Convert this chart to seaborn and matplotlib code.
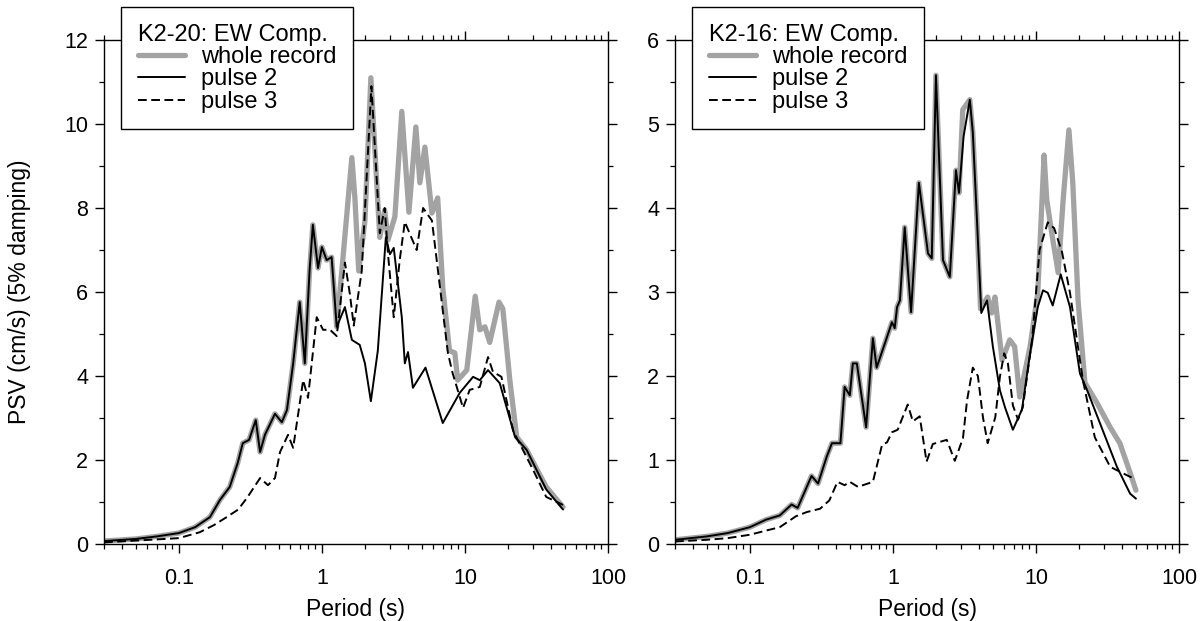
import numpy as np
import pandas as pd
import matplotlib
matplotlib.use("Agg")
import matplotlib.pyplot as plt
from matplotlib.ticker import FixedLocator, MultipleLocator, LogLocator, NullFormatter, FuncFormatter
import seaborn as sns

# ---------------- data ----------------
# Left panel: K2-20 EW component
k20_whole_T = [0.03, 0.05, 0.07, 0.1, 0.13, 0.165, 0.194, 0.227, 0.258, 0.28, 0.31, 0.345, 0.37, 0.4,
               0.47, 0.525, 0.57, 0.63, 0.70, 0.76, 0.82, 0.865, 0.94, 1.0, 1.08, 1.17, 1.27, 1.4,
               1.62, 1.7, 1.81, 2.0, 2.2, 2.54, 2.75, 2.9, 3.24, 3.62, 4.06, 4.54, 4.84, 5.25, 5.88,
               6.45, 7.0, 7.8, 8.5, 8.9, 10.3, 11.8, 12.7, 13.8, 14.9, 17.3, 18.4, 20.6, 23, 27,
               37, 48.5]
k20_whole_v = [0.07, 0.12, 0.18, 0.26, 0.4, 0.64, 1.05, 1.36, 1.93, 2.4, 2.48, 2.95, 2.19, 2.6,
               3.1, 2.9, 3.19, 4.3, 5.76, 4.3, 6.5, 7.6, 6.57, 7.07, 6.76, 6.83, 5.17, 6.76,
               9.2, 8.26, 6.5, 7.7, 11.1, 7.3, 7.95, 7.24, 7.8, 10.3, 7.9, 9.93, 8.6, 9.45, 7.88,
               8.24, 6.1, 4.6, 4.55, 3.9, 4.14, 5.9, 5.1, 5.17, 4.8, 5.76, 5.6, 3.9, 2.55, 2.24,
               1.36, 0.88]

k20_p2_T = [0.03, 0.05, 0.07, 0.1, 0.13, 0.165, 0.194, 0.227, 0.258, 0.28, 0.31, 0.345, 0.37, 0.4,
            0.47, 0.525, 0.57, 0.63, 0.70, 0.76, 0.82, 0.865, 0.94, 1.0, 1.08, 1.17, 1.27, 1.45,
            1.62, 1.84, 2.0, 2.2, 2.46, 2.8, 2.99, 3.18, 3.62, 3.8, 4.0, 4.33, 5.3, 7.0, 9.2,
            11.4, 12.7, 14.5, 17.5, 22.4, 27, 37, 48.5]
k20_p2_v = [0.07, 0.12, 0.18, 0.26, 0.4, 0.64, 1.05, 1.36, 1.93, 2.4, 2.48, 2.95, 2.19, 2.6,
            3.1, 2.9, 3.19, 4.3, 5.76, 4.3, 6.5, 7.6, 6.57, 7.07, 6.76, 6.83, 5.17, 5.64,
            4.86, 4.74, 4.3, 3.4, 4.6, 7.3, 6.9, 7.05, 5.4, 4.3, 4.57, 3.72, 4.2, 2.88, 3.6,
            3.98, 3.9, 4.14, 3.83, 2.55, 2.24, 1.3, 0.82]

k20_p3_T = [0.03, 0.063, 0.1, 0.14, 0.176, 0.216, 0.26, 0.3, 0.37, 0.42, 0.47, 0.51, 0.58, 0.63,
            0.74, 0.8, 0.92, 1.02, 1.14, 1.27, 1.45, 1.57, 1.67, 1.9, 2.22, 2.54, 2.75, 2.9,
            3.18, 3.5, 3.8, 4.1, 4.6, 5.1, 5.88, 6.7, 7.6, 8.2, 9.7, 10.8, 12.7, 14.5, 15.7,
            18, 21.7, 30, 37, 44, 48.5]
k20_p3_v = [0.04, 0.1, 0.14, 0.28, 0.45, 0.64, 0.82, 1.1, 1.57, 1.4, 1.57, 2.19, 2.6, 2.29,
            3.9, 3.48, 5.4, 5.1, 5.1, 4.95, 6.7, 5.95, 5.2, 6.5, 10.9, 7.4, 8.0, 6.9,
            5.4, 6.76, 7.67, 7.4, 7.0, 8.0, 7.7, 6.1, 4.55, 4.07, 3.24, 3.67, 3.74, 4.45, 4.1,
            3.98, 2.7, 1.76, 1.12, 1.0, 0.93]

# Right panel: K2-16 EW component
k16_whole_T = [0.03, 0.05, 0.07, 0.1, 0.13, 0.162, 0.196, 0.216, 0.27, 0.3, 0.345, 0.375, 0.43, 0.46,
               0.5, 0.525, 0.56, 0.65, 0.725, 0.77, 0.88, 0.985, 1.03, 1.07, 1.12, 1.21, 1.34,
               1.52, 1.76, 1.87, 2.0, 2.24, 2.5, 2.76, 2.9, 3.08, 3.45, 3.62, 3.86, 4.1, 4.6, 4.9,
               5.17, 5.8, 6.56, 7.1, 7.7, 9.1, 10.3, 11.4, 11.9, 12.9, 14.3, 15.5, 17.0, 18.1,
               19.7, 22, 26.7, 33, 38.6, 45.5, 50]
k16_whole_v = [0.05, 0.09, 0.13, 0.2, 0.29, 0.34, 0.47, 0.43, 0.81, 0.72, 1.04, 1.2, 1.2, 1.87,
               1.77, 2.15, 2.15, 1.39, 2.45, 2.1, 2.39, 2.64, 2.57, 2.82, 2.9, 3.77, 2.76,
               4.3, 3.46, 3.4, 5.58, 3.38, 3.18, 4.45, 4.18, 5.17, 5.29, 4.9, 3.9, 2.8, 2.94, 2.75,
               2.94, 2.19, 2.43, 2.35, 1.75, 2.35, 2.99, 4.63, 4.1, 3.7, 3.23, 4.1, 4.93, 4.3,
               2.9, 1.92, 1.68, 1.39, 1.2, 0.85, 0.64]

k16_p2_T = [0.03, 0.05, 0.07, 0.1, 0.13, 0.162, 0.196, 0.216, 0.27, 0.3, 0.345, 0.375, 0.43, 0.46,
            0.5, 0.525, 0.56, 0.65, 0.725, 0.77, 0.88, 0.985, 1.03, 1.07, 1.12, 1.21, 1.34,
            1.52, 1.76, 1.87, 2.0, 2.24, 2.5, 2.76, 2.9, 3.12, 3.45, 3.62, 3.86, 4.15, 4.55,
            5.0, 5.6, 6.07, 6.9, 7.98, 9.1, 10.3, 11.2, 12.1, 13.1, 14.9, 17.3, 20.3, 22.8,
            28, 36.8, 45.5, 50]
k16_p2_v = [0.05, 0.09, 0.13, 0.2, 0.29, 0.34, 0.47, 0.43, 0.81, 0.72, 1.04, 1.2, 1.2, 1.87,
            1.77, 2.15, 2.15, 1.39, 2.45, 2.1, 2.39, 2.64, 2.57, 2.82, 2.9, 3.77, 2.76,
            4.3, 3.46, 3.4, 5.58, 3.38, 3.18, 4.45, 4.18, 4.85, 5.29, 4.9, 3.9, 2.75, 2.9,
            2.35, 1.83, 1.63, 1.36, 1.6, 2.27, 2.82, 3.02, 2.99, 2.84, 3.21, 2.82, 2.03, 1.83,
            1.44, 0.92, 0.6, 0.54]

k16_p3_T = [0.03, 0.05, 0.07, 0.1, 0.13, 0.162, 0.21, 0.25, 0.31, 0.36, 0.41, 0.46, 0.5, 0.57,
            0.725, 0.84, 0.91, 0.985, 1.08, 1.27, 1.38, 1.54, 1.72, 1.9, 2.38, 2.71, 3.09, 3.3,
            3.62, 3.93, 4.26, 4.6, 5.2, 5.6, 6.0, 6.37, 6.9, 7.5, 8.1, 9.4, 10.6, 12.1, 13.4,
            15.2, 17.3, 21.3, 25.8, 33, 38.6, 45.5, 50]
k16_p3_v = [0.03, 0.05, 0.07, 0.11, 0.16, 0.2, 0.33, 0.38, 0.42, 0.52, 0.74, 0.7, 0.74, 0.68,
            0.74, 1.18, 1.21, 1.33, 1.36, 1.66, 1.46, 1.52, 0.98, 1.19, 1.24, 0.99, 1.26, 1.71,
            2.1, 2.0, 1.51, 1.2, 1.51, 1.99, 2.27, 2.15, 1.65, 1.48, 1.63, 2.43, 3.5, 3.83, 3.76,
            3.48, 2.99, 1.95, 1.27, 0.92, 0.86, 0.8, 0.78]

panel_titles = ["K2-20: EW Comp.", "K2-16: EW Comp."]
series_labels = ["whole record", "pulse 2", "pulse 3"]
y_tops = [12, 6]
y_major = [2, 1]
y_minor = [1, 0.5]

# ---------------- style ----------------
sns.set_theme(style="ticks")
plt.rcParams["font.family"] = ["Liberation Sans", "DejaVu Sans"]
plt.rcParams.update({
    "axes.linewidth": 1.0,
    "xtick.major.size": 6.5, "ytick.major.size": 6.5,
    "xtick.minor.size": 3.6, "ytick.minor.size": 3.6,
    "xtick.major.width": 1.0, "ytick.major.width": 1.0,
    "xtick.minor.width": 0.9, "ytick.minor.width": 0.9,
    "xtick.color": "black", "ytick.color": "black",
    "xtick.labelcolor": "black", "ytick.labelcolor": "black",
    "text.color": "black", "axes.labelcolor": "black",
    "axes.edgecolor": "black",
})

fig = plt.figure(figsize=(12.03, 6.21), dpi=100)
ax1 = fig.add_axes([104 / 1203, 77 / 621, 504 / 1203, 504 / 621])
ax2 = fig.add_axes([675 / 1203, 77 / 621, 504 / 1203, 504 / 621])

panels = [
    (ax1, k20_whole_T, k20_whole_v, k20_p2_T, k20_p2_v, k20_p3_T, k20_p3_v),
    (ax2, k16_whole_T, k16_whole_v, k16_p2_T, k16_p2_v, k16_p3_T, k16_p3_v),
]

for i, (ax, wT, wv, p2T, p2v, p3T, p3v) in enumerate(panels):
    sns.lineplot(x=wT, y=wv, ax=ax, color="#a3a3a3", linewidth=3.8,
                 label=series_labels[0], sort=False, solid_capstyle="round", solid_joinstyle="round")
    sns.lineplot(x=p2T, y=p2v, ax=ax, color="black", linewidth=1.4,
                 label=series_labels[1], sort=False)
    sns.lineplot(x=p3T, y=p3v, ax=ax, color="black", linewidth=1.4,
                 linestyle=(0, (4.5, 2.3)), label=series_labels[2], sort=False)

    ax.set_xscale("log")
    ax.set_xlim(0.03, 100)
    ax.set_ylim(0, y_tops[i])
    ax.xaxis.set_major_locator(FixedLocator([0.1, 1, 10, 100]))
    ax.xaxis.set_major_formatter(FuncFormatter(lambda v, p: f"{v:g}"))
    ax.xaxis.set_minor_locator(LogLocator(base=10, subs=np.arange(2, 10), numticks=20))
    ax.xaxis.set_minor_formatter(NullFormatter())
    ax.yaxis.set_major_locator(MultipleLocator(y_major[i]))
    ax.yaxis.set_minor_locator(MultipleLocator(y_minor[i]))
    ax.yaxis.set_major_formatter(FuncFormatter(lambda v, p: f"{v:g}"))
    ax.tick_params(which="both", direction="out", top=True, right=True,
                   labelsize=15.5, pad=5)
    ax.tick_params(axis="x", which="major", pad=11)
    for s in ax.spines.values():
        s.set_visible(True)
        s.set_linewidth(1.0)
        s.set_color("black")
    ax.set_xlabel("Period (s)", fontsize=16.5, labelpad=6)
    ax.set_ylabel("")

    leg = ax.legend(title=panel_titles[i], loc="upper left",
                    bbox_to_anchor=(17 / 504, 1 + 33 / 504), borderaxespad=0,
                    fontsize=17, title_fontsize=17, alignment="left",
                    frameon=True, fancybox=False, framealpha=1, edgecolor="black",
                    handlelength=2.0, handletextpad=0.7, labelspacing=0.02,
                    borderpad=0.7)
    leg.get_frame().set_linewidth(1.0)
    leg.set_zorder(10)

ax1.set_ylabel("PSV (cm/s) (5% damping)", fontsize=16.5)
ax1.yaxis.set_label_coords(-0.145, 0.5)

fig.savefig("out.png", dpi=100)
